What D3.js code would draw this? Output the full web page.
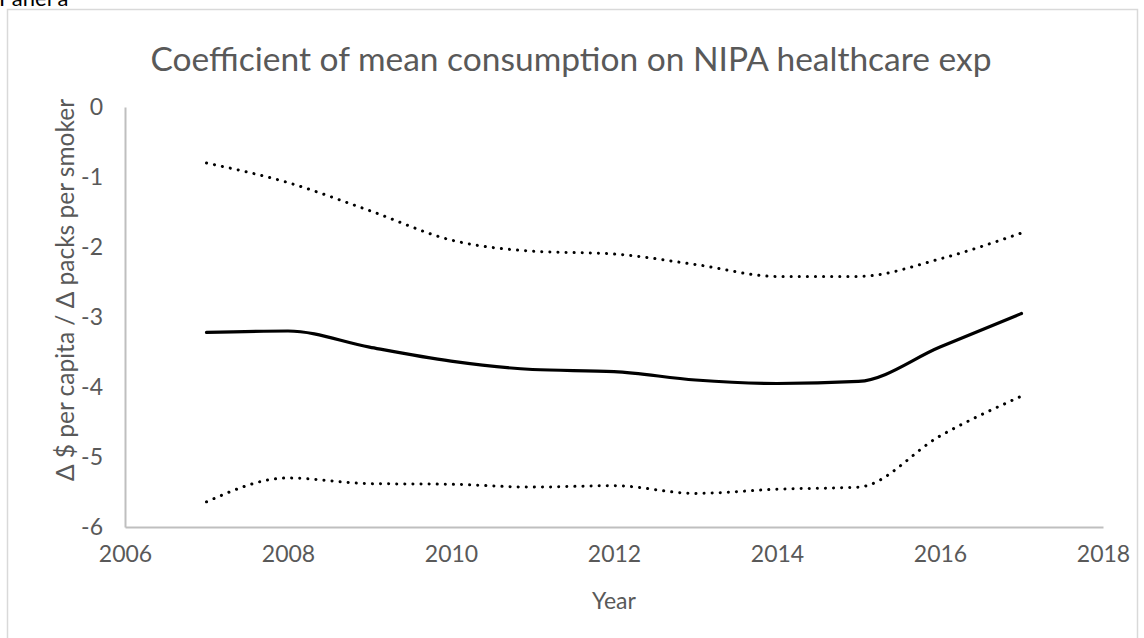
<!DOCTYPE html>
<html>
<head>
<meta charset="utf-8">
<script src="https://cdn.jsdelivr.net/npm/d3@7"></script>
<style>
  body { margin: 0; background: #fff; }
  text { font-family: Lato, "Open Sans", sans-serif; fill: #595959; }
</style>
</head>
<body>
<div class="chart"></div>
<script>
// Coefficient of mean consumption on NIPA healthcare exp (panel a)

var years = [2007, 2008, 2009, 2010, 2011, 2012, 2013, 2014, 2015, 2016, 2017]
var coefMean = [-3.22, -3.2, -3.43, -3.63, -3.75, -3.78, -3.9, -3.95, -3.92, -3.43, -2.95]
var coefUpper = [-0.8, -1.08, -1.48, -1.9, -2.06, -2.1, -2.25, -2.42, -2.42, -2.17, -1.8]
var coefLower = [-5.64, -5.3, -5.38, -5.39, -5.43, -5.41, -5.52, -5.46, -5.43, -4.7, -4.13]

var xTicks = [2006, 2008, 2010, 2012, 2014, 2016, 2018]
var yTicks = [0, -1, -2, -3, -4, -5, -6]

var svgWidth = 1144
var svgHeight = 638

var svg = d3.select('.chart')
    .append('svg')
    .attr('width', svgWidth)
    .attr('height', svgHeight)

// chart frame, runs off the bottom of the picture
svg.append('rect')
    .attr('x', 7.5)
    .attr('y', 9.5)
    .attr('width', 1130)
    .attr('height', 640)
    .attr('fill', 'none')
    .attr('stroke', '#d9d9d9')
    .attr('stroke-width', 1.5)

// panel label, mostly cut off at the top as in the source
svg.append('text')
    .attr('x', -1)
    .attr('y', 6)
    .attr('font-size', '22px')
    .style('fill', '#000')
    .text('Panel a')

var x = d3.scaleLinear().domain([2006, 2018]).range([125, 1103])
var y = d3.scaleLinear().domain([-6, 0]).range([527, 107])

// X axis
var xAxis = svg.append('g')
    .attr('transform', 'translate(0, 527)')
    .call(d3.axisBottom(x).tickValues(xTicks).tickFormat(d3.format('d')).tickSize(0).tickPadding(19))
xAxis.select('.domain').attr('stroke', '#bfbfbf').attr('stroke-width', 2)
xAxis.selectAll('text').attr('font-size', '23px').style('font-family', null)

// Y axis
var yAxis = svg.append('g')
    .attr('transform', 'translate(125, 0)')
    .call(d3.axisLeft(y).tickValues(yTicks).tickFormat(d3.format('d')).tickSize(0).tickPadding(22))
yAxis.select('.domain').attr('stroke', '#bfbfbf').attr('stroke-width', 2)
yAxis.selectAll('text').attr('font-size', '23px').style('font-family', null)
svg.selectAll('.tick text').text(function (d) { return String(d).replace('\u2212', '-') })

// titles
svg.append('text')
    .attr('x', 571)
    .attr('y', 71)
    .attr('text-anchor', 'middle')
    .attr('font-size', '33.5px')
    .text('Coefficient of mean consumption on NIPA healthcare exp')

svg.append('text')
    .attr('x', 614)
    .attr('y', 609)
    .attr('text-anchor', 'middle')
    .attr('font-size', '23px')
    .text('Year')

svg.append('text')
    .attr('transform', 'translate(74, 290) rotate(-90)')
    .attr('text-anchor', 'middle')
    .attr('font-size', '24.5px')
    .text('\u0394 $ per capita / \u0394 packs per smoker')

// lines
var line = d3.line()
    .x(function (d) { return x(d[0]) })
    .y(function (d) { return y(d[1]) })
    .curve(d3.curveMonotoneX)

var series = [
    { values: coefUpper, dotted: true },
    { values: coefLower, dotted: true },
    { values: coefMean, dotted: false }
]

series.forEach(function (s) {
    var pts = years.map(function (yr, i) { return [yr, s.values[i]] })
    svg.append('path')
        .datum(pts)
        .attr('d', line)
        .attr('fill', 'none')
        .attr('stroke', '#000')
        .attr('stroke-width', s.dotted ? 3 : 3.2)
        .attr('stroke-linecap', 'round')
        .attr('stroke-dasharray', s.dotted ? '0.1 8' : null)
})
</script>
</body>
</html>
